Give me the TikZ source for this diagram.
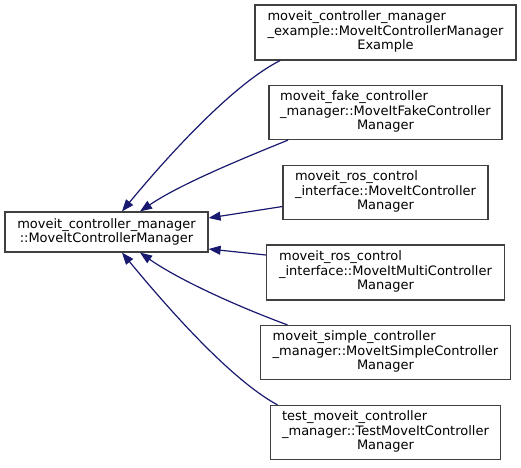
\documentclass[tikz,border=0pt]{standalone}
\usepackage{fontspec}
\setmainfont{DejaVu Sans}
\usepackage{tikz}
\usetikzlibrary{positioning,arrows.meta}
\definecolor{midnightblue}{RGB}{25,25,112}
\definecolor{boxgray}{RGB}{64,64,64}
\tikzstyle{block} = [draw=boxgray, line width=1.2pt, rectangle, fill=white, inner sep=0pt, minimum height=54pt, font=\fontsize{13}{14.5}\selectfont]
\tikzstyle{parent} = [block, minimum height=40pt, minimum width=203pt, align=center]
\tikzstyle{edge} = [draw=midnightblue, line width=1.2pt]
\newcommand{\clslabel}[3]{\begin{tabular}{@{}l@{}}#1\\#2\\\multicolumn{1}{@{}c@{}}{#3}\end{tabular}}

\begin{document}
\begin{tikzpicture}[x=1pt, y=-1pt, node distance=80pt, >={Triangle[length=12pt,width=9pt]}]
	\useasboundingbox (0,0) rectangle (521,467);
	\node [parent] (manager) at (106.5,232) {moveit\_controller\_manager\\::MoveItControllerManager};
	\node [block, minimum width=261pt, minimum height=55pt] (example) at (385.5,32.5) {\clslabel{moveit\_controller\_manager}{\_example::MoveItControllerManager}{Example}};
	\node [block, minimum width=233pt, below of=example] (fake) {\clslabel{moveit\_fake\_controller}{\_manager::MoveItFakeController}{Manager}};
	\node [block, minimum width=205pt, below of=fake] (roscontrol) {\clslabel{moveit\_ros\_control}{\_interface::MoveItController}{Manager}};
	\node [block, minimum width=238pt, minimum height=55pt, below of=roscontrol] (multi) {\clslabel{moveit\_ros\_control}{\_interface::MoveItMultiController}{Manager}};
	\node [block, minimum width=250pt, below of=multi] (simple) {\clslabel{moveit\_simple\_controller}{\_manager::MoveItSimpleController}{Manager}};
	\node [block, minimum width=230pt, below of=simple] (test) {\clslabel{test\_moveit\_controller}{\_manager::TestMoveItController}{Manager}};

	\draw [<-, edge] ([xshift=15.5pt]manager.north) .. controls (162,163) and (230,86) .. ([xshift=-105.5pt]example.south);
	\draw [<-, edge] ([xshift=33.5pt]manager.north) .. controls (180.5,184) and (241.5,159) .. ([xshift=-97.5pt]fake.south);
	\draw [<-, edge] ([yshift=14pt]manager.east) -- ([yshift=-14pt]roscontrol.west);
	\draw [<-, edge] ([yshift=-17pt]manager.east) -- ([yshift=17.5pt]multi.west);
	\draw [<-, edge] ([xshift=33.5pt]manager.south) .. controls (180.5,281) and (241.5,308) .. ([xshift=-98pt]simple.north);
	\draw [<-, edge] ([xshift=15.5pt]manager.south) .. controls (162,301) and (228,378) .. ([xshift=-108pt]test.north);
\end{tikzpicture}
\end{document}
